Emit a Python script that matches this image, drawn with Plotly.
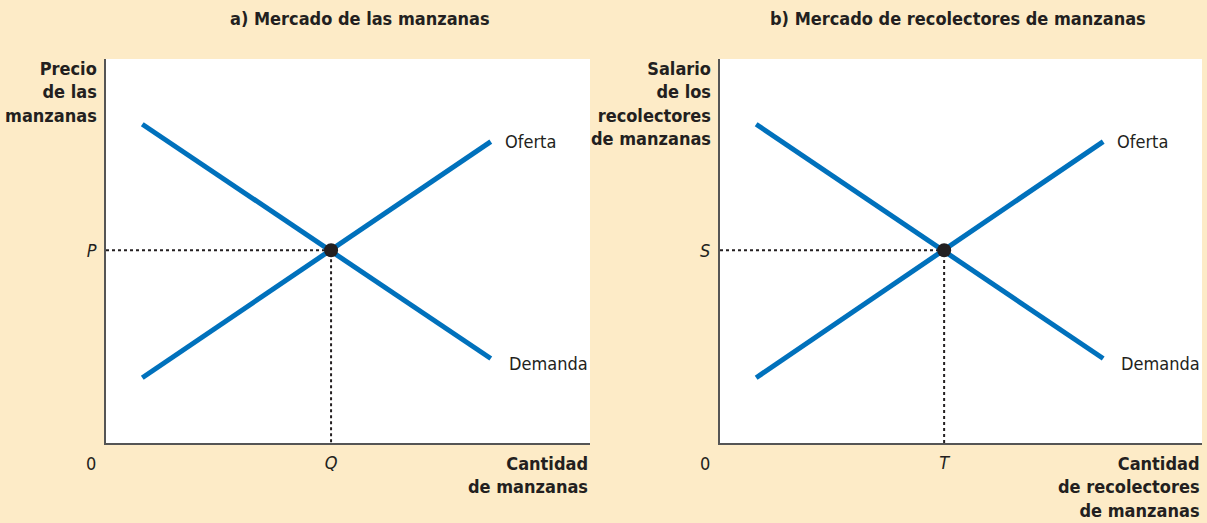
import plotly.graph_objects as go

# curve end points (same shape in both panels), in axis units 0-100
curve_x = [7.5, 79.5]
demanda_y = [83.0, 22.0]
oferta_y = [17.0, 78.5]
eq_x = 46.5
eq_y = 50.2

titulos = ["a) Mercado de las manzanas", "b) Mercado de recolectores de manzanas"]
y_titulos = ["Precio<br>de las<br>manzanas",
             "Salario<br>de los<br>recolectores<br>de manzanas"]
x_titulos = ["Cantidad<br>de manzanas",
             "Cantidad<br>de recolectores<br>de manzanas"]
eq_y_labels = ["P", "S"]
eq_x_labels = ["Q", "T"]

BG = "#FDEBC7"
BLUE = "#0071BC"
INK = "#231F20"
FONT = "Liberation Sans Narrow, DejaVu Sans Condensed, sans-serif"

fig = go.Figure()
domains = [(106 / 1207, 590 / 1207), (720 / 1207, 1202 / 1207)]
ydom = (80 / 523, 464 / 523)

for i in range(2):
    xa = "x" if i == 0 else "x2"
    ya = "y" if i == 0 else "y2"
    # dotted guides
    fig.add_trace(go.Scatter(x=[0, eq_x, eq_x], y=[eq_y, eq_y, 0], mode="lines",
                             line=dict(color=INK, width=2, dash="dot"),
                             xaxis=xa, yaxis=ya, showlegend=False, hoverinfo="skip"))
    fig.add_trace(go.Scatter(x=curve_x, y=demanda_y, mode="lines",
                             line=dict(color=BLUE, width=5),
                             xaxis=xa, yaxis=ya, showlegend=False))
    fig.add_trace(go.Scatter(x=curve_x, y=oferta_y, mode="lines",
                             line=dict(color=BLUE, width=5),
                             xaxis=xa, yaxis=ya, showlegend=False))
    fig.add_trace(go.Scatter(x=[eq_x], y=[eq_y], mode="markers",
                             marker=dict(color=INK, size=14),
                             xaxis=xa, yaxis=ya, showlegend=False))

    sfx = "" if i == 0 else "2"
    fig.update_layout(**{
        "xaxis" + sfx: dict(domain=domains[i], range=[0, 100], showline=True,
                            linecolor="#555555", linewidth=2, showgrid=False,
                            zeroline=False, tickvals=[eq_x],
                            ticktext=["<i>" + eq_x_labels[i] + "</i>"],
                            ticks="", ticklabelstandoff=2,
                            tickfont=dict(family=FONT, size=18, color=INK),
                            anchor=ya, fixedrange=True),
        "yaxis" + sfx: dict(domain=ydom, range=[0, 100], showline=True,
                            linecolor="#555555", linewidth=2, showgrid=False,
                            zeroline=False, tickvals=[eq_y],
                            ticktext=["<i>" + eq_y_labels[i] + "</i>"],
                            ticks="", ticklabelstandoff=4,
                            tickfont=dict(family=FONT, size=18, color=INK),
                            anchor=xa, fixedrange=True),
    })

    x0, x1 = domains[i]
    # panel title
    fig.add_annotation(text="<b>" + titulos[i] + "</b>", xref="paper", yref="paper",
                       x=(360 if i == 0 else 958) / 1207, y=1 - 18 / 523,
                       xanchor="center", yanchor="middle",
                       showarrow=False, font=dict(family=FONT, size=18, color=INK))
    # y title
    fig.add_annotation(text="<b>" + y_titulos[i] + "</b>", xref="paper", yref="paper",
                       x=x0 - 7 / 1207, y=1 - 56 / 523, xanchor="right", yanchor="top",
                       align="right", showarrow=False,
                       font=dict(family=FONT, size=18, color=INK))
    # x title
    fig.add_annotation(text="<b>" + x_titulos[i] + "</b>", xref="paper", yref="paper",
                       x=x1, y=1 - 451 / 523, xanchor="right", yanchor="top",
                       align="right", showarrow=False,
                       font=dict(family=FONT, size=18, color=INK))
    # origin
    fig.add_annotation(text="0", xref=xa, yref=ya, x=0, y=0, xshift=-15, yshift=-20,
                       showarrow=False, font=dict(family=FONT, size=18, color=INK))
    # curve labels
    fig.add_annotation(text="Oferta", xref=xa, yref=ya, x=curve_x[1], y=oferta_y[1],
                       xanchor="left", xshift=12, showarrow=False,
                       font=dict(family=FONT, size=18, color=INK))
    fig.add_annotation(text="Demanda", xref=xa, yref=ya, x=curve_x[1], y=demanda_y[1],
                       xanchor="left", xshift=16, yshift=-5, showarrow=False,
                       font=dict(family=FONT, size=18, color=INK))

fig.update_layout(width=1207, height=523, margin=dict(l=0, r=0, t=0, b=0),
                  paper_bgcolor=BG, plot_bgcolor="white")

fig.write_html("out.html", config={"displayModeBar": False},
               post_script="document.body.style.margin='0';")
